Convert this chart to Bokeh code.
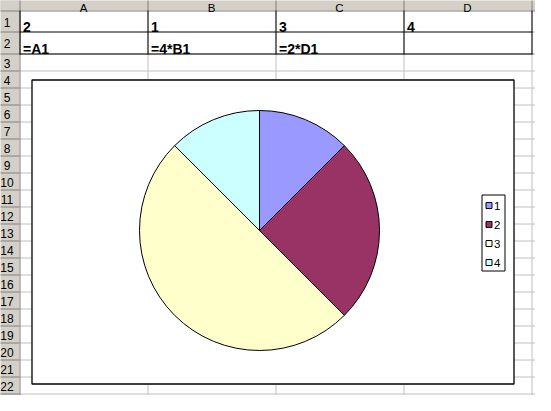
import numpy as np
from bokeh.plotting import figure
from bokeh.models import Range1d
from bokeh.embed import file_html
from bokeh.resources import INLINE
from bokeh.core.properties import value

# ---------------- data ----------------
col_letters = ["A", "B", "C", "D"]
row1_values = ["2", "1", "3", "4"]
row2_formulas = ["=A1", "=4*B1", "=2*D1", ""]
slice_labels = ["1", "2", "3", "4"]
slice_values = [2, 4, 8, 2]
slice_colors = ["#9999FF", "#993366", "#FFFFCC", "#CCFFFF"]
row_numbers = [str(i) for i in range(1, 23)]

# ---------------- layout (screen px of the sheet) ----------------
PAGE_W, PAGE_H, M = 551, 411, 8
HEAD_H = 18            # column header height
ROWHEAD_W = 27         # row header width
COL_W = 128
col_edges = [ROWHEAD_W + i * COL_W for i in range(6)]
row_edges = [HEAD_H, 39, 61] + [61 + k * 17 for k in range(1, 22)]
HDR = "#d4d0c8"
HDR_LINE = "#808080"
GRID = "#c0c0c0"
FONT = "Liberation Sans"

p = figure(width=PAGE_W - 2 * M, height=PAGE_H - 2 * M,
           x_range=Range1d(M, PAGE_W - M), y_range=Range1d(-(PAGE_H - M), -M),
           output_backend="svg", toolbar_location=None, min_border=0,
           x_axis_type=None, y_axis_type=None)
p.grid.visible = False
p.outline_line_color = None
p.background_fill_color = "white"
p.border_fill_color = "white"

def Y(v):
    return -np.asarray(v, dtype=float)

# gridlines of the sheet
vx = [e + 0.5 for e in col_edges[1:5]]
p.segment(x0=vx, y0=Y([HEAD_H] * 4), x1=vx, y1=Y([PAGE_H] * 4), line_color=GRID, line_width=1)
hy = [e + 0.5 for e in row_edges[2:]]
p.segment(x0=[ROWHEAD_W] * len(hy), y0=Y(hy), x1=[PAGE_W] * len(hy), y1=Y(hy), line_color=GRID, line_width=1)
hy12 = [39.5, 61.5]
p.segment(x0=[539.5] * 2, y0=Y(hy12), x1=[PAGE_W] * 2, y1=Y(hy12), line_color=GRID, line_width=1)

# headers
p.quad(left=0, right=PAGE_W, top=Y(0), bottom=Y(HEAD_H), fill_color=HDR, line_color=None)
p.quad(left=0, right=ROWHEAD_W, top=Y(0), bottom=Y(PAGE_H), fill_color=HDR, line_color=None)
p.segment(x0=vx, y0=Y([0] * 4), x1=vx, y1=Y([HEAD_H] * 4), line_color=HDR_LINE, line_width=1)
hh = [e + 0.5 for e in row_edges[1:]]
p.segment(x0=[0] * len(hh), y0=Y(hh), x1=[ROWHEAD_W] * len(hh), y1=Y(hh), line_color=HDR_LINE, line_width=1)
p.segment(x0=[0], y0=Y([HEAD_H + 0.5]), x1=[PAGE_W], y1=Y([HEAD_H + 0.5]), line_color=HDR_LINE, line_width=1)
p.segment(x0=[ROWHEAD_W + 0.5], y0=Y([0]), x1=[ROWHEAD_W + 0.5], y1=Y([PAGE_H]), line_color=HDR_LINE, line_width=1)

# black cell borders around A1:D2
bx = [e + 0.5 for e in col_edges[0:5]]
p.segment(x0=bx, y0=Y([HEAD_H] * 5), x1=bx, y1=Y([62] * 5), line_color="black", line_width=1)
p.segment(x0=[ROWHEAD_W] * 2, y0=Y(hy12), x1=[540] * 2, y1=Y(hy12), line_color="black", line_width=1)

# header text
mids = [(col_edges[i] + col_edges[i + 1]) / 2 for i in range(4)]
p.text(x=mids, y=Y([15.5] * 4), text=col_letters, text_font=value(FONT), text_font_size="11.5px",
       text_align="center", text_baseline="alphabetic", text_color="black")
row_centers = [(row_edges[i] + row_edges[i + 1]) / 2 + 1 for i in range(len(row_numbers))]
p.text(x=[14.5] * len(row_centers), y=Y(row_centers), text=row_numbers,
       text_font=value(FONT), text_font_size="12px", text_align="center", text_baseline="middle",
       text_color="black")

# cell text
lefts = [e + 3.5 for e in col_edges[0:4]]
p.text(x=lefts, y=Y([34.5] * 4), text=row1_values, text_font=value(FONT), text_font_size="14px",
       text_font_style="bold", text_baseline="alphabetic", text_color="black")
p.text(x=lefts, y=Y([56] * 4), text=row2_formulas, text_font=value(FONT), text_font_size="14px",
       text_font_style="bold", text_baseline="alphabetic", text_color="black")

# chart area
p.quad(left=39.5, right=521.5, top=Y(87.5), bottom=Y(391.5), fill_color="white",
       line_color="black", line_width=1.3)

# pie
vals = np.array(slice_values, dtype=float)
cum = np.concatenate([[0], np.cumsum(vals)]) / vals.sum()
starts = np.pi / 2 - 2 * np.pi * cum[:-1]
ends = np.pi / 2 - 2 * np.pi * cum[1:]
p.wedge(x=267, y=-238, radius=120, start_angle=starts, end_angle=ends, direction="clock",
        fill_color=slice_colors, line_color="black", line_width=1)

# legend
p.quad(left=489.5, right=512.5, top=Y(202.5), bottom=Y(278.5), fill_color="white",
       line_color="black", line_width=1)
ly = [213 + 19 * i for i in range(len(slice_labels))]
p.rect(x=[496.5] * len(ly), y=Y(ly), width=6, height=6, fill_color=slice_colors,
       line_color="black", line_width=1)
p.text(x=[501.5] * len(ly), y=Y([v + 0.5 for v in ly]), text=slice_labels, text_font=value(FONT),
       text_font_size="11.5px", text_baseline="middle", text_color="black")

open("out.html", "w").write(file_html(p, INLINE))
